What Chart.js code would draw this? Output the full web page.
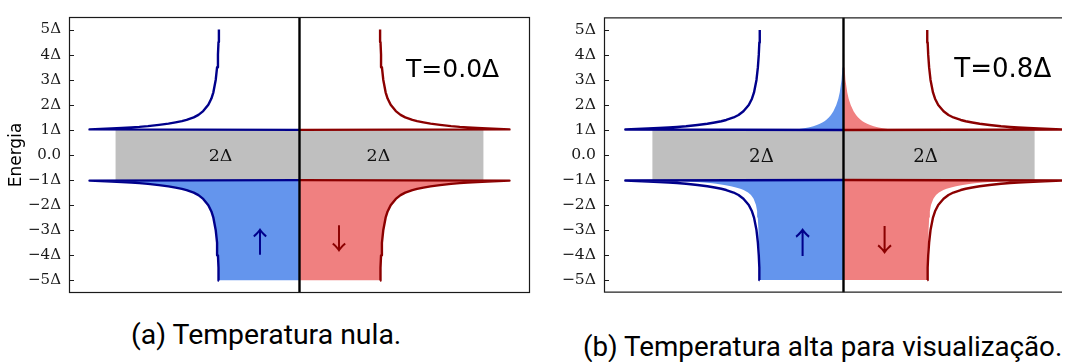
<!DOCTYPE html>
<html><head><meta charset="utf-8">
<script src="https://cdn.jsdelivr.net/npm/chart.js@4.4.1/dist/chart.umd.min.js"></script>
<style>
html,body{margin:0;padding:0;background:#fff;width:1076px;height:362px;overflow:hidden;position:relative;}
#wrapa{position:absolute;left:0;top:0;width:540px;height:310px;}
#wrapb{position:absolute;left:536px;top:0;width:526px;height:310px;overflow:hidden;}
canvas{position:absolute;left:0;top:0;}
.cap{position:absolute;font-family:Roboto,sans-serif;color:#000;white-space:nowrap;line-height:1;}
</style></head><body>
<div id="wrapa"><canvas id="pa" width="540" height="310"></canvas></div>
<div id="wrapb"><canvas id="pb" width="560" height="310"></canvas></div>
<div class="cap" id="capa">(a) Temperatura nula.</div>
<div class="cap" id="capb">(b) Temperatura alta para visualização.</div>
<script>
// ---- data ----
const TICK_VALUES = [-5, -4, -3, -2, -1, 0, 1, 2, 3, 4, 5];
const TICK_LABELS = ['−5Δ', '−4Δ', '−3Δ', '−2Δ', '−1Δ', '0.0', '1Δ', '2Δ', '3Δ', '4Δ', '5Δ'];

// energies (units of Δ) of the branch below the gap and its density of states
const ENERGY_LOWER = [-5.00, -4.50, -4.00, -3.50, -3.00, -2.50, -2.25, -2.00, -1.75, -1.60, -1.50, -1.40, -1.35, -1.30, -1.25, -1.20, -1.15, -1.12, -1.10, -1.08, -1.06, -1.04, -1.02];
const DOS_LOWER    = [1.021, 1.026, 1.033, 1.044, 1.061, 1.091, 1.116, 1.155, 1.22, 1.28, 1.34, 1.43, 1.49, 1.57, 1.66, 1.78, 1.92, 2.03, 2.13, 2.25, 2.38, 2.52, 2.66];
// branch above the gap
const ENERGY_UPPER = [1.02, 1.04, 1.06, 1.08, 1.10, 1.12, 1.15, 1.20, 1.25, 1.30, 1.35, 1.40, 1.50, 1.60, 1.75, 2.00, 2.25, 2.50, 3.00, 3.50, 4.00, 4.50, 5.00];
const DOS_UPPER    = [2.66, 2.52, 2.38, 2.25, 2.13, 2.03, 1.92, 1.78, 1.66, 1.57, 1.49, 1.43, 1.34, 1.28, 1.22, 1.155, 1.116, 1.091, 1.061, 1.044, 1.033, 1.026, 1.021];

// occupied states (coloured area), T = 0: the whole lower branch, nothing above
const OCC_LOWER_T0 = [1.021, 1.026, 1.033, 1.044, 1.061, 1.091, 1.116, 1.155, 1.22, 1.28, 1.34, 1.43, 1.49, 1.57, 1.66, 1.78, 1.92, 2.03, 2.13, 2.25, 2.38, 2.52, 2.66];
// occupied states, T = 0.8Δ
const OCC_LOWER_T08 = [1.019, 1.022, 1.026, 1.031, 1.037, 1.045, 1.053, 1.067, 1.096, 1.128, 1.164, 1.218, 1.257, 1.312, 1.372, 1.455, 1.552, 1.628, 1.700, 1.787, 1.880, 1.980, 2.079];
const OCC_UPPER_T08 = [0.581, 0.540, 0.500, 0.463, 0.430, 0.402, 0.368, 0.325, 0.288, 0.258, 0.232, 0.212, 0.179, 0.153, 0.123, 0.088, 0.063, 0.046, 0.024, 0.013, 0.007, 0.004, 0.002];

const GAP_EDGE = 1.0;            // gap edges at ±1Δ
const GAP_BOX_HALF_WIDTH = 2.33; // grey band half width (DOS units)
const X_LIMIT = 2.92;
const Y_LIMIT = 5.5;
const TEMPERATURE_LABELS = ['T=0.0Δ', 'T=0.8Δ'];
const GAP_LABEL = '2Δ';
const SPIN_LABELS = ['↑', '↓'];
const Y_TITLE = 'Energia';

// ---- layout / style (not data) ----
const GAP_LABEL_X = [-1, 1];
const ARROW_POS = [{x: -0.5, y: -3.48}, {x: 0.5, y: -3.36}];
const TEMP_POS = {x: 1.35, y: 3.1};
const COLORS = {
  upLine: '#00008b', upFill: '#6495ed',
  downLine: '#8b0000', downFill: '#f08080',
  gap: '#bfbfbf'
};

Chart.defaults.font.family = '"DejaVu Serif", serif';
Chart.defaults.font.size = 15;
Chart.defaults.color = '#1a1a1a';

function branch(energies, values, sign, edgeFirst) {
  const p = energies.map((e, i) => ({x: sign * values[i], y: e}));
  if (edgeFirst) p.unshift({x: 0, y: GAP_EDGE});
  else p.push({x: 0, y: -GAP_EDGE});
  return p;
}

function buildPanel(cfg) {
  const s = cfg.fontScale;
  const datasets = [];
  const base = {pointRadius: 0, tension: 0, borderJoinStyle: 'round'};
  datasets.push(Object.assign({}, base, {
    data: [{x: GAP_BOX_HALF_WIDTH, y: -GAP_EDGE}, {x: GAP_BOX_HALF_WIDTH, y: GAP_EDGE}],
    fill: {value: -GAP_BOX_HALF_WIDTH}, backgroundColor: COLORS.gap,
    borderWidth: 0, borderColor: 'transparent', order: 6
  }));
  const sides = [
    {sign: -1, line: COLORS.upLine, fillc: COLORS.upFill},
    {sign: 1, line: COLORS.downLine, fillc: COLORS.downFill}
  ];
  for (const sd of sides) {
    datasets.push(Object.assign({}, base, {
      data: branch(ENERGY_LOWER, cfg.occLower, sd.sign, false),
      fill: 'origin', backgroundColor: sd.fillc, borderWidth: 0, borderColor: 'transparent', order: 5
    }));
    if (cfg.occUpper) {
      datasets.push(Object.assign({}, base, {
        data: branch(ENERGY_UPPER, cfg.occUpper, sd.sign, true),
        fill: 'origin', backgroundColor: sd.fillc, borderWidth: 0, borderColor: 'transparent', order: 5
      }));
    }
    datasets.push(Object.assign({}, base, {
      data: branch(ENERGY_LOWER, DOS_LOWER, sd.sign, false),
      fill: false, borderColor: sd.line, borderWidth: 2.4, order: 3
    }));
    datasets.push(Object.assign({}, base, {
      data: branch(ENERGY_UPPER, DOS_UPPER, sd.sign, true),
      fill: false, borderColor: sd.line, borderWidth: 2.4, order: 3
    }));
  }
  datasets.push(Object.assign({}, base, {
    data: [{x: 0, y: -Y_LIMIT}, {x: 0, y: Y_LIMIT}],
    fill: false, borderColor: '#000', borderWidth: 2.4, order: 1
  }));

  const deco = {
    id: 'deco' + cfg.canvas,
    afterDatasetsDraw(chart) {
      const {ctx, scales: {x, y}} = chart;
      ctx.save();
      const fs = 17.5 * s;
      ctx.fillStyle = '#111';
      ctx.font = fs + 'px "DejaVu Serif", serif';
      ctx.textAlign = 'center';
      ctx.textBaseline = 'alphabetic';
      for (const gx of GAP_LABEL_X) {
        ctx.fillText(GAP_LABEL, x.getPixelForValue(gx), y.getPixelForValue(0) + 0.365 * fs);
      }
      ctx.fillStyle = '#000';
      ctx.font = (25 * s) + 'px "DejaVu Sans", sans-serif';
      ctx.textAlign = 'left';
      ctx.fillText(cfg.tempLabel, x.getPixelForValue(TEMP_POS.x), y.getPixelForValue(TEMP_POS.y));
      ctx.font = (29 * s) + 'px "Noto Sans CJK JP"';
      ctx.textAlign = 'center';
      ctx.textBaseline = 'middle';
      const acol = [COLORS.upLine, COLORS.downLine];
      ARROW_POS.forEach((p, i) => {
        ctx.fillStyle = acol[i];
        ctx.fillText(SPIN_LABELS[i], x.getPixelForValue(p.x), y.getPixelForValue(p.y));
      });
      ctx.restore();
    },
    afterDraw(chart) {
      const {ctx, chartArea: a, scales: {y}} = chart;
      ctx.save();
      ctx.strokeStyle = '#1a1a1a';
      ctx.lineWidth = 1.2;
      ctx.strokeRect(a.left + 0.5, a.top + 0.5, a.right - a.left - 1, a.bottom - a.top - 1);
      ctx.lineWidth = 1;
      for (const v of TICK_VALUES) {
        const py = Math.round(y.getPixelForValue(v)) + 0.5;
        ctx.beginPath();
        ctx.moveTo(a.left, py);
        ctx.lineTo(a.left + 5, py);
        ctx.stroke();
      }
      ctx.restore();
    }
  };

  return new Chart(document.getElementById(cfg.canvas), {
    type: 'line',
    data: {datasets},
    options: {
      indexAxis: 'y',
      responsive: false,
      animation: false,
      events: [],
      layout: {padding: {left: 0, top: cfg.area.top, right: cfg.width - cfg.area.right, bottom: cfg.height - cfg.area.bottom}},
      plugins: {legend: {display: false}, tooltip: {enabled: false}},
      scales: {
        x: {type: 'linear', min: -X_LIMIT, max: X_LIMIT, display: false},
        y: {
          type: 'linear', min: -Y_LIMIT, max: Y_LIMIT,
          afterBuildTicks: sc => { sc.ticks = TICK_VALUES.map(v => ({value: v})); },
          afterFit: sc => { sc.width = cfg.area.left; },
          ticks: {
            autoSkip: false, padding: 8, color: '#1a1a1a',
            font: {family: '"DejaVu Serif", serif', size: 15 * s},
            callback: (v, i) => TICK_LABELS[i]
          },
          grid: {display: false, drawTicks: false},
          border: {display: false},
          title: {
            display: !!cfg.yTitle, text: cfg.yTitle || '', color: '#000',
            font: {family: '"DejaVu Sans", sans-serif', size: 17}, padding: {top: 6, bottom: 0}
          }
        }
      }
    },
    plugins: [deco]
  });
}

buildPanel({canvas: 'pa', area: {left: 69, top: 13, right: 530, bottom: 299}, width: 540, height: 310,
  fontScale: 1, tempLabel: TEMPERATURE_LABELS[0], occLower: OCC_LOWER_T0, occUpper: null, yTitle: Y_TITLE});
buildPanel({canvas: 'pb', area: {left: 68, top: 7, right: 547, bottom: 305}, width: 560, height: 310,
  fontScale: 1.042, tempLabel: TEMPERATURE_LABELS[1], occLower: OCC_LOWER_T08, occUpper: OCC_UPPER_T08, yTitle: null});

// captions: each sized to its measured width in the reference
(function () {
  const c = document.createElement('canvas').getContext('2d');
  c.font = '100px Roboto';
  const place = (id, left, width, baseline) => {
    const el = document.getElementById(id);
    const fs = 100 * width / c.measureText(el.textContent).width;
    el.style.fontSize = fs + 'px';
    el.style.left = left + 'px';
    el.style.top = (baseline - 0.842 * fs) + 'px';
  };
  place('capa', 131, 271, 345);
  place('capb', 583, 480, 356);
})();
</script>
</body></html>
